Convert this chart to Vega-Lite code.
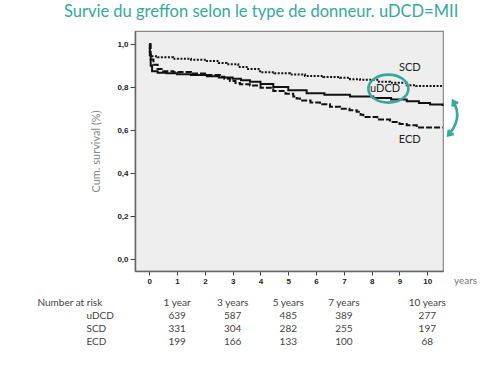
{
  "$schema": "https://vega.github.io/schema/vega-lite/v6.json",
  "padding": {"left": 37, "top": 3, "right": 2, "bottom": 2},
  "background": "white",
  "title": {"text": "Survie du greffon selon le type de donneur. uDCD=MII", "color": "#35a99c", "font": "Lato", "fontSize": 16.5, "fontWeight": "normal", "anchor": "middle", "offset": 10, "dx": 4},
  "config": {"view": {"stroke": null}, "font": "Lato"},
  "spacing": 10,
  "datasets": {
    "km": [
      {"group": "uDCD", "year": 0, "surv": 1.0},
      {"group": "uDCD", "year": 0.02, "surv": 0.95},
      {"group": "uDCD", "year": 0.05, "surv": 0.9},
      {"group": "uDCD", "year": 0.1, "surv": 0.875},
      {"group": "uDCD", "year": 0.3, "surv": 0.868},
      {"group": "uDCD", "year": 0.62, "surv": 0.865},
      {"group": "uDCD", "year": 1.0, "surv": 0.861},
      {"group": "uDCD", "year": 1.5, "surv": 0.857},
      {"group": "uDCD", "year": 2.07, "surv": 0.852},
      {"group": "uDCD", "year": 2.5, "surv": 0.846},
      {"group": "uDCD", "year": 3.0, "surv": 0.84},
      {"group": "uDCD", "year": 3.3, "surv": 0.833},
      {"group": "uDCD", "year": 3.62, "surv": 0.826},
      {"group": "uDCD", "year": 4.0, "surv": 0.815},
      {"group": "uDCD", "year": 4.46, "surv": 0.802},
      {"group": "uDCD", "year": 5.0, "surv": 0.787},
      {"group": "uDCD", "year": 5.66, "surv": 0.772},
      {"group": "uDCD", "year": 6.3, "surv": 0.765},
      {"group": "uDCD", "year": 7.22, "surv": 0.758},
      {"group": "uDCD", "year": 8.06, "surv": 0.75},
      {"group": "uDCD", "year": 8.7, "surv": 0.743},
      {"group": "uDCD", "year": 9.26, "surv": 0.735},
      {"group": "uDCD", "year": 9.7, "surv": 0.727},
      {"group": "uDCD", "year": 10.1, "surv": 0.72},
      {"group": "uDCD", "year": 10.55, "surv": 0.713},
      {"group": "SCD", "year": 0, "surv": 1.0},
      {"group": "SCD", "year": 0.02, "surv": 0.96},
      {"group": "SCD", "year": 0.05, "surv": 0.945},
      {"group": "SCD", "year": 0.3, "surv": 0.94},
      {"group": "SCD", "year": 0.86, "surv": 0.933},
      {"group": "SCD", "year": 1.5, "surv": 0.928},
      {"group": "SCD", "year": 2.07, "surv": 0.922},
      {"group": "SCD", "year": 2.5, "surv": 0.913},
      {"group": "SCD", "year": 2.78, "surv": 0.907},
      {"group": "SCD", "year": 3.2, "surv": 0.895},
      {"group": "SCD", "year": 3.5, "surv": 0.885},
      {"group": "SCD", "year": 3.98, "surv": 0.87},
      {"group": "SCD", "year": 4.5, "surv": 0.865},
      {"group": "SCD", "year": 5.06, "surv": 0.86},
      {"group": "SCD", "year": 5.6, "surv": 0.853},
      {"group": "SCD", "year": 6.26, "surv": 0.848},
      {"group": "SCD", "year": 6.86, "surv": 0.845},
      {"group": "SCD", "year": 7.22, "surv": 0.838},
      {"group": "SCD", "year": 7.58, "surv": 0.835},
      {"group": "SCD", "year": 8.2, "surv": 0.826},
      {"group": "SCD", "year": 8.66, "surv": 0.821},
      {"group": "SCD", "year": 9.26, "surv": 0.81},
      {"group": "SCD", "year": 9.6, "surv": 0.806},
      {"group": "SCD", "year": 10.55, "surv": 0.804},
      {"group": "ECD", "year": 0, "surv": 1.0},
      {"group": "ECD", "year": 0.05, "surv": 0.93},
      {"group": "ECD", "year": 0.15, "surv": 0.905},
      {"group": "ECD", "year": 0.3, "surv": 0.885},
      {"group": "ECD", "year": 0.5, "surv": 0.875},
      {"group": "ECD", "year": 0.86, "surv": 0.871},
      {"group": "ECD", "year": 1.5, "surv": 0.864},
      {"group": "ECD", "year": 2.07, "surv": 0.857},
      {"group": "ECD", "year": 2.54, "surv": 0.849},
      {"group": "ECD", "year": 2.7, "surv": 0.84},
      {"group": "ECD", "year": 2.9, "surv": 0.829},
      {"group": "ECD", "year": 3.1, "surv": 0.82},
      {"group": "ECD", "year": 3.26, "surv": 0.814},
      {"group": "ECD", "year": 3.62, "surv": 0.808},
      {"group": "ECD", "year": 4.0, "surv": 0.798},
      {"group": "ECD", "year": 4.46, "surv": 0.783},
      {"group": "ECD", "year": 4.9, "surv": 0.77},
      {"group": "ECD", "year": 5.18, "surv": 0.758},
      {"group": "ECD", "year": 5.3, "surv": 0.748},
      {"group": "ECD", "year": 5.42, "surv": 0.739},
      {"group": "ECD", "year": 5.8, "surv": 0.73},
      {"group": "ECD", "year": 6.14, "surv": 0.721},
      {"group": "ECD", "year": 6.5, "surv": 0.71},
      {"group": "ECD", "year": 6.86, "surv": 0.7},
      {"group": "ECD", "year": 7.2, "surv": 0.693},
      {"group": "ECD", "year": 7.46, "surv": 0.686},
      {"group": "ECD", "year": 7.6, "surv": 0.672},
      {"group": "ECD", "year": 7.7, "surv": 0.662},
      {"group": "ECD", "year": 8.2, "surv": 0.65},
      {"group": "ECD", "year": 8.66, "surv": 0.639},
      {"group": "ECD", "year": 9.0, "surv": 0.63},
      {"group": "ECD", "year": 9.26, "surv": 0.624},
      {"group": "ECD", "year": 9.62, "surv": 0.613},
      {"group": "ECD", "year": 10.55, "surv": 0.613}
    ]
  },
  "vconcat": [
    {
      "width": 308,
      "height": 240,
      "view": {"fill": "#eeeeee", "stroke": "#8a8a8a", "strokeWidth": 1.2},
      "encoding": {
        "x": {
          "field": "year", "type": "quantitative",
          "scale": {"domain": [-0.514, 10.565], "nice": false, "zero": false},
          "axis": {
            "values": [0, 1, 2, 3, 4, 5, 6, 7, 8, 9, 10], "tickCount": 11, "format": "d", "grid": false, "labelOverlap": false,
            "labelFont": "Liberation Sans", "labelFontSize": 8, "labelFontWeight": "bold", "labelColor": "#222222",
            "tickSize": 4, "tickColor": "#444444", "labelPadding": 2,
            "domainColor": "#666666", "domainWidth": 1.5,
            "title": "years", "titleFont": "Lato", "titleFontSize": 10, "titleFontWeight": "normal", "titleColor": "#777777",
            "titleX": 330, "titleY": 9, "titleBaseline": "middle", "titleAlign": "center", "titleAngle": 0
          }
        },
        "y": {
          "field": "surv", "type": "quantitative",
          "scale": {"domain": [-0.054, 1.062], "nice": false, "zero": false},
          "axis": {
            "values": [0, 0.2, 0.4, 0.6, 0.8, 1.0], "grid": false, "labelOverlap": false,
            "labelExpr": "replace(format(datum.value, '.1f'), '.', ',')",
            "labelFont": "Liberation Sans", "labelFontSize": 8, "labelFontWeight": "bold", "labelColor": "#222222",
            "tickSize": 5, "tickColor": "#444444", "labelPadding": 2,
            "domainColor": "#666666", "domainWidth": 1.5,
            "title": "Cum. survival (%)", "titleFont": "Lato", "titleFontSize": 11, "titleFontWeight": "normal", "titleColor": "#888888",
            "titlePadding": 15
          }
        }
      },
      "layer": [
        {
          "data": {"name": "km"},
          "mark": {"type": "line", "interpolate": "step-after", "strokeWidth": 2, "color": "#111111"},
          "encoding": {
            "strokeDash": {
              "field": "group", "type": "nominal",
              "scale": {"domain": ["uDCD", "SCD", "ECD"], "range": [[1, 0], [2, 1.5], [6, 2]]},
              "legend": null
            }
          }
        },
        {
          "data": {"values": [
            {"label": "SCD", "year": 9.37, "surv": 0.89},
            {"label": "uDCD", "year": 8.48, "surv": 0.791},
            {"label": "ECD", "year": 9.37, "surv": 0.556}
          ]},
          "mark": {"type": "text", "font": "Lato", "fontSize": 11, "color": "#222222", "align": "center", "baseline": "middle"},
          "encoding": {
            "text": {"field": "label", "type": "nominal"}
          }
        },
        {
          "data": {"values": [{"year": 8.6, "surv": 0.794}]},
          "mark": {"type": "point", "shape": "M -1 0 A 1 0.7 0 1 0 1 0 A 1 0.7 0 1 0 -1 0 Z", "size": 1600, "filled": false, "stroke": "#35a99c", "strokeWidth": 2.6, "opacity": 1},
          "encoding": {}
        },
        {
          "data": {"values": [{"year": 10.89, "surv": 0.657}]},
          "mark": {"type": "point", "shape": "M 0.05 -0.9 Q 0.6 0 -0.2 0.9 M 0.031 -0.602 L 0.05 -0.9 L 0.324 -0.781 M 0.092 0.831 L -0.2 0.9 L -0.165 0.602", "size": 1444, "filled": false, "stroke": "#35a99c", "strokeWidth": 2.6, "opacity": 1},
          "encoding": {}
        }
      ]
    },
    {
      "width": 308,
      "height": 52,
      "data": {"values": [
        {"row": "Number at risk", "year": 1, "label": "1 year"},
        {"row": "Number at risk", "year": 3, "label": "3 years"},
        {"row": "Number at risk", "year": 5, "label": "5 years"},
        {"row": "Number at risk", "year": 7, "label": "7 years"},
        {"row": "Number at risk", "year": 10, "label": "10 years"},
        {"row": "uDCD", "year": 1, "label": "639"},
        {"row": "uDCD", "year": 3, "label": "587"},
        {"row": "uDCD", "year": 5, "label": "485"},
        {"row": "uDCD", "year": 7, "label": "389"},
        {"row": "uDCD", "year": 10, "label": "277"},
        {"row": "SCD", "year": 1, "label": "331"},
        {"row": "SCD", "year": 3, "label": "304"},
        {"row": "SCD", "year": 5, "label": "282"},
        {"row": "SCD", "year": 7, "label": "255"},
        {"row": "SCD", "year": 10, "label": "197"},
        {"row": "ECD", "year": 1, "label": "199"},
        {"row": "ECD", "year": 3, "label": "166"},
        {"row": "ECD", "year": 5, "label": "133"},
        {"row": "ECD", "year": 7, "label": "100"},
        {"row": "ECD", "year": 10, "label": "68"}
      ]},
      "mark": {"type": "text", "font": "Lato", "fontSize": 10, "color": "#444444", "align": "center", "baseline": "middle"},
      "encoding": {
        "x": {"field": "year", "type": "quantitative", "scale": {"domain": [-0.514, 10.565], "nice": false, "zero": false}, "axis": null},
        "y": {
          "field": "row", "type": "nominal", "sort": ["Number at risk", "uDCD", "SCD", "ECD"],
          "scale": {"type": "point", "padding": 0.5},
          "axis": {
            "title": null, "domain": false, "ticks": false, "tickSize": 0, "grid": false,
            "labelAlign": "left", "labelFont": "Lato", "labelFontSize": 10, "labelColor": "#444444",
            "labelPadding": {"condition": {"test": "datum.value == 'Number at risk'", "value": 98}, "value": 49}
          }
        },
        "text": {"field": "label", "type": "nominal"}
      }
    }
  ]
}
